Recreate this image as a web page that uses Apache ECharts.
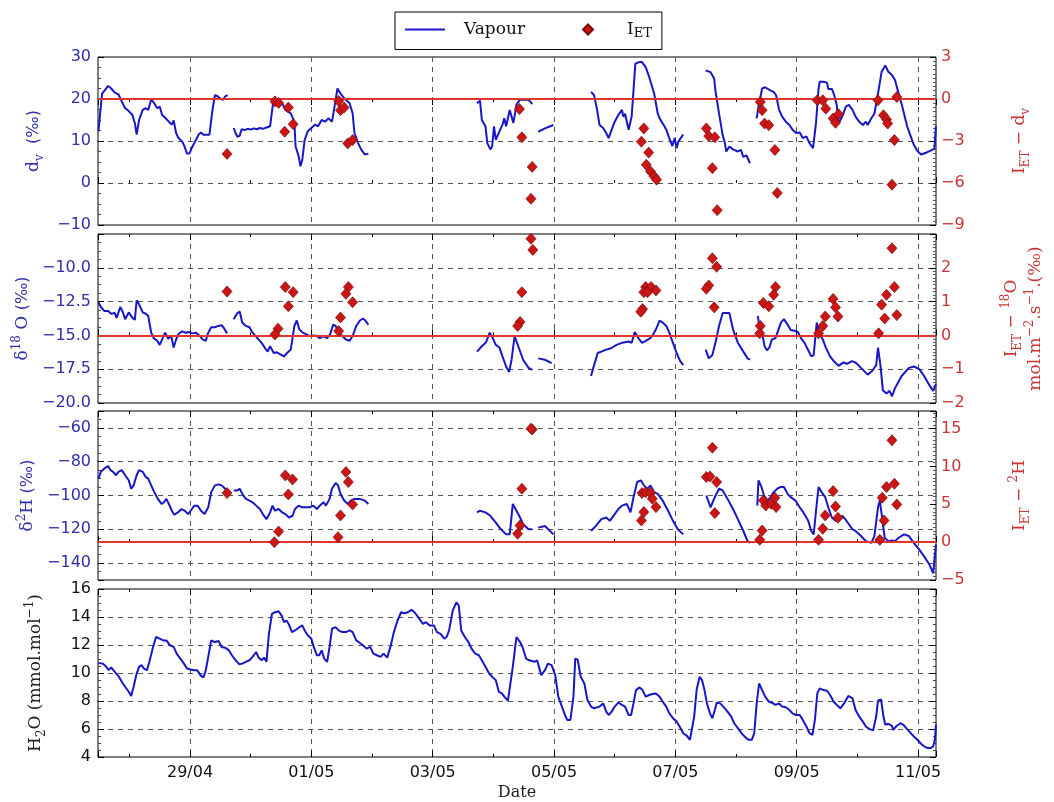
<!DOCTYPE html>
<html><head><meta charset="utf-8">
<script src="https://cdn.jsdelivr.net/npm/echarts@6/dist/echarts.min.js"></script>
<style>html,body{margin:0;padding:0;background:#fff}#c{width:1054px;height:802px}</style>
</head><body><div id="c"></div>
<script>
// x values are days since 27/04 00:00 (29/04 = 2, 01/05 = 4, ...)
const X_MIN = 0.483, X_MAX = 14.296;

// Panel 1: d_v of vapour (left axis) and I_ET - d_v (right axis)
const dvLine = [
[0.49,12.3],[0.55,21.3],[0.59,22.0],[0.65,23.1],[0.70,22.5],[0.76,21.5],[0.82,21.1],[0.875,19.4],[0.93,17.8],[0.97,17.4],[1.0,17.8],[1.05,16.2],[1.09,14.3],[1.12,11.5],[1.16,15.0],[1.22,17.4],[1.27,17.8],[1.31,17.4],[1.36,19.9],[1.41,19.0],[1.46,17.8],[1.50,18.2],[1.54,16.2],[1.60,15.4],[1.65,14.6],[1.70,13.9],[1.73,14.9],[1.77,11.9],[1.81,10.7],[1.87,9.9],[1.91,8.7],[1.95,7.0],[1.99,7.0],[2.04,8.7],[2.10,10.3],[2.14,11.5],[2.18,12.0],[2.22,11.5],[2.27,11.5],[2.32,11.5],[2.37,17.4],[2.41,20.9],[2.45,20.7],[2.49,20.2],[2.54,19.8],[2.58,20.6],[2.62,20.9],
[2.67,null],
[2.72,13.1],[2.75,11.9],[2.78,11.0],[2.82,11.3],[2.85,12.8],[2.90,12.6],[2.95,12.9],[3.00,12.7],[3.05,13.0],[3.10,12.8],[3.15,13.1],[3.20,12.9],[3.26,13.2],[3.32,13.5],[3.375,19.8],[3.45,19.6],[3.52,19.0],[3.57,17.4],[3.66,16.6],[3.72,14.6],[3.74,8.7],[3.79,6.4],[3.82,4.0],[3.85,5.5],[3.89,10.3],[3.94,12.3],[4.0,13.1],[4.06,13.9],[4.11,13.5],[4.17,15.0],[4.23,14.6],[4.28,15.4],[4.34,14.6],[4.40,19.8],[4.43,22.5],[4.48,21.3],[4.54,20.2],[4.63,19.0],[4.68,16.6],[4.71,11.9],[4.77,9.5],[4.82,8.0],[4.88,6.8],[4.94,7.0],
[5.0,null],
[6.73,19.0],[6.78,19.6],[6.81,15.0],[6.87,13.5],[6.90,9.5],[6.95,8.0],[6.98,8.7],[7.01,13.5],[7.04,10.3],[7.10,12.3],[7.15,13.9],[7.18,15.4],[7.21,13.5],[7.27,17.4],[7.30,15.8],[7.33,14.3],[7.38,18.6],[7.44,19.9],[7.50,19.8],[7.56,19.9],[7.61,19.4],[7.64,18.8],
[7.69,null],
[7.74,12.2],[7.85,13.0],[7.99,13.8],
[8.3,null],
[8.61,21.7],[8.66,20.9],[8.71,17.4],[8.75,13.8],[8.78,14.2],[8.81,13.1],[8.86,11.9],[8.90,10.7],[8.95,12.7],[9.0,14.6],[9.06,16.2],[9.09,15.8],[9.12,17.4],[9.14,15.8],[9.17,16.5],[9.23,12.7],[9.28,15.9],[9.34,28.4],[9.40,28.8],[9.45,28.8],[9.51,27.6],[9.57,25.2],[9.65,21.3],[9.71,16.5],[9.74,15.4],[9.79,14.2],[9.82,13.5],[9.85,12.7],[9.90,10.7],[9.95,8.8],[9.99,10.7],[10.02,8.3],[10.05,9.9],[10.07,9.5],[10.13,11.5],
[10.3,null],
[10.50,26.8],[10.58,26.4],[10.64,24.8],[10.66,22.0],[10.72,16.5],[10.78,11.4],[10.81,9.9],[10.84,7.5],[10.89,8.7],[10.95,8.0],[10.97,8.3],[11.03,7.5],[11.08,7.9],[11.12,6.2],[11.17,6.6],[11.23,4.7],
[11.29,null],
[11.34,15.4],[11.37,18.2],[11.43,22.5],[11.48,22.8],[11.57,22.0],[11.62,21.7],[11.66,20.9],[11.71,17.4],[11.76,15.8],[11.82,14.6],[11.88,13.8],[11.93,12.7],[11.99,11.9],[12.02,11.5],[12.05,12.0],[12.10,10.7],[12.16,11.1],[12.21,9.5],[12.27,8.3],[12.32,14.6],[12.36,22.4],[12.38,24.1],[12.44,24.1],[12.50,23.9],[12.52,22.4],[12.58,22.4],[12.61,21.3],[12.66,18.6],[12.69,14.2],[12.75,15.8],[12.81,18.2],[12.86,18.6],[12.92,17.4],[12.97,15.8],[13.03,14.6],[13.09,13.8],[13.14,14.6],[13.17,13.8],[13.23,15.4],[13.28,16.5],[13.34,21.3],[13.40,26.5],[13.46,28.0],[13.51,26.5],[13.57,25.7],[13.62,24.5],[13.68,21.3],[13.74,18.2],[13.82,13.5],[13.88,11.1],[13.93,9.1],[13.99,7.6],[14.05,6.8],[14.13,7.2],[14.19,7.6],[14.27,8.2],[14.295,13.5]
];
const dvIET = [
[2.61,-3.92],[3.40,-0.17],[3.46,-0.28],[3.62,-0.61],[3.56,-2.34],[3.70,-1.80],[4.45,-0.14],[4.48,-0.80],[4.54,-0.61],[4.60,-3.17],[4.68,-2.93],[7.43,-0.72],[7.47,-2.74],[7.64,-4.85],[7.62,-7.13],[9.48,-2.10],[9.44,-3.05],[9.56,-3.83],[9.52,-4.70],[9.59,-5.17],[9.65,-5.53],[9.69,-5.76],[10.51,-2.10],[10.55,-2.65],[10.65,-2.74],[10.61,-4.94],[10.69,-7.94],[11.40,-0.21],[11.43,-0.80],[11.47,-1.75],[11.54,-1.87],[11.64,-3.64],[11.68,-6.71],[12.34,-0.09],[12.43,-0.09],[12.48,-0.69],[12.60,-1.39],[12.64,-1.70],[12.69,-1.09],[13.34,-0.09],[13.43,-1.16],[13.48,-1.46],[13.50,-1.75],[13.61,-2.93],[13.57,-6.12],[13.65,0.14]
];

// Panel 2: delta18O of vapour and I_ET - 18O
const o18Line = [
[0.49,-12.55],[0.53,-12.9],[0.59,-13.2],[0.65,-13.2],[0.70,-13.4],[0.76,-13.35],[0.79,-13.7],[0.85,-12.9],[0.89,-13.25],[0.93,-13.8],[0.99,-13.3],[1.05,-13.7],[1.09,-13.85],[1.12,-12.4],[1.16,-12.7],[1.22,-13.3],[1.27,-13.4],[1.31,-13.55],[1.36,-14.8],[1.40,-15.2],[1.46,-15.4],[1.50,-15.7],[1.54,-15.3],[1.59,-14.8],[1.64,-15.25],[1.69,-15.05],[1.73,-15.9],[1.77,-15.3],[1.81,-14.9],[1.87,-14.7],[1.93,-14.8],[1.98,-14.75],[2.04,-14.85],[2.10,-14.8],[2.15,-15.0],[2.21,-15.3],[2.26,-15.4],[2.30,-14.8],[2.35,-14.4],[2.41,-14.4],[2.47,-14.3],[2.52,-14.25],[2.55,-14.4],[2.61,-14.85],
[2.67,null],
[2.72,-13.8],[2.78,-13.35],[2.82,-13.25],[2.86,-14.05],[2.92,-14.3],[2.98,-14.4],[3.03,-14.8],[3.11,-15.2],[3.18,-15.55],[3.23,-15.9],[3.28,-16.2],[3.32,-15.8],[3.38,-16.3],[3.43,-16.25],[3.49,-16.4],[3.55,-16.55],[3.60,-16.3],[3.66,-16.05],[3.72,-14.3],[3.76,-13.9],[3.80,-14.55],[3.86,-14.8],[3.91,-14.9],[3.97,-15.05],[4.03,-15.0],[4.09,-15.05],[4.14,-15.2],[4.20,-15.05],[4.26,-15.2],[4.31,-14.9],[4.36,-14.2],[4.40,-14.3],[4.45,-14.8],[4.51,-15.05],[4.57,-15.3],[4.63,-15.4],[4.68,-15.05],[4.74,-14.3],[4.80,-13.9],[4.85,-13.75],[4.89,-13.9],[4.94,-14.2],
[5.0,null],
[6.73,-16.2],[6.81,-15.8],[6.88,-15.5],[6.94,-14.8],[6.99,-15.2],[7.04,-15.7],[7.10,-15.9],[7.15,-16.55],[7.21,-17.3],[7.26,-17.7],[7.30,-16.8],[7.35,-15.05],[7.41,-15.8],[7.45,-16.3],[7.49,-16.8],[7.58,-17.4],[7.64,-17.55],
[7.69,null],
[7.74,-16.7],[7.85,-16.8],[7.96,-17.05],
[8.3,null],
[8.61,-18.0],[8.66,-17.2],[8.72,-16.3],[8.78,-16.2],[8.86,-16.05],[8.94,-15.95],[9.03,-15.7],[9.12,-15.55],[9.17,-15.5],[9.23,-15.45],[9.28,-15.55],[9.33,-14.75],[9.39,-15.2],[9.45,-15.55],[9.51,-15.4],[9.57,-15.25],[9.62,-15.05],[9.68,-14.55],[9.74,-13.9],[9.79,-14.05],[9.85,-14.3],[9.90,-14.8],[9.96,-15.55],[10.02,-16.3],[10.08,-16.9],[10.13,-17.2],
[10.3,null],
[10.50,-16.05],[10.55,-16.7],[10.61,-16.45],[10.66,-15.55],[10.72,-14.3],[10.78,-13.35],[10.84,-13.35],[10.89,-13.35],[10.95,-14.55],[11.03,-15.55],[11.12,-16.2],[11.19,-16.7],[11.23,-16.8],
[11.29,null],
[11.36,-13.55],[11.39,-14.55],[11.43,-14.8],[11.47,-15.8],[11.51,-16.1],[11.55,-15.9],[11.59,-15.3],[11.65,-15.2],[11.74,-14.05],[11.79,-13.8],[11.85,-14.2],[11.90,-14.6],[11.96,-14.65],[12.02,-14.75],[12.07,-15.2],[12.13,-15.55],[12.19,-16.1],[12.24,-16.55],[12.28,-16.45],[12.33,-14.05],[12.37,-14.8],[12.43,-15.3],[12.48,-15.9],[12.55,-16.55],[12.61,-16.9],[12.69,-17.25],[12.77,-17.0],[12.83,-17.1],[12.91,-16.9],[12.97,-17.0],[13.06,-17.4],[13.17,-17.9],[13.25,-17.6],[13.31,-17.2],[13.34,-15.9],[13.38,-17.2],[13.42,-19.05],[13.48,-19.3],[13.53,-19.1],[13.57,-19.5],[13.62,-18.9],[13.73,-18.0],[13.85,-17.4],[13.93,-17.3],[14.02,-17.5],[14.10,-18.0],[14.19,-18.7],[14.25,-19.1],[14.295,-18.6]
];
const o18IET = [
[2.61,1.3],[3.57,1.43],[3.70,1.28],[3.62,0.86],[3.45,0.2],[3.40,0.03],[4.61,1.43],[4.57,1.23],[4.68,0.98],[4.48,0.53],[4.45,0.13],[7.62,2.86],[7.65,2.53],[7.47,1.28],[7.44,0.4],[7.40,0.28],[9.51,1.43],[9.57,1.38],[9.60,1.43],[9.48,1.28],[9.54,1.28],[9.68,1.33],[9.46,0.78],[9.43,0.7],[10.61,2.28],[10.68,2.03],[10.55,1.48],[10.51,1.38],[10.64,0.83],[11.45,0.96],[11.54,0.86],[11.65,1.43],[11.62,1.2],[11.40,0.28],[11.39,0.06],[12.60,1.08],[12.64,0.83],[12.68,0.56],[12.47,0.56],[12.43,0.28],[12.36,0.06],[13.57,2.58],[13.61,1.43],[13.48,1.2],[13.40,0.91],[13.45,0.5],[13.65,0.6],[13.35,0.06]
];

// Panel 3: delta2H of vapour and I_ET - 2H
const h2Line = [
[0.49,-90],[0.53,-86],[0.59,-84],[0.65,-82.6],[0.69,-85],[0.73,-86],[0.78,-88],[0.82,-86],[0.875,-85],[0.93,-88],[0.99,-91],[1.03,-96],[1.07,-94],[1.12,-88],[1.16,-85],[1.22,-86],[1.27,-89],[1.31,-90],[1.36,-94],[1.41,-98],[1.47,-102],[1.53,-105],[1.57,-104],[1.61,-102],[1.65,-105],[1.70,-109],[1.74,-111.4],[1.80,-110],[1.86,-108],[1.91,-109],[1.97,-111],[2.01,-109],[2.07,-106],[2.125,-106],[2.18,-109],[2.24,-111],[2.30,-107],[2.35,-98],[2.41,-94],[2.47,-93.4],[2.52,-94],[2.58,-96],[2.61,-98],
[2.67,null],
[2.72,-97],[2.78,-97],[2.82,-96],[2.86,-99],[2.92,-102],[2.98,-103],[3.03,-104],[3.09,-106],[3.15,-108],[3.20,-111],[3.26,-114],[3.32,-110],[3.36,-106],[3.40,-109],[3.46,-108],[3.52,-110],[3.57,-111],[3.63,-113],[3.69,-112],[3.73,-108],[3.79,-106],[3.85,-107],[3.91,-107],[3.97,-107],[4.03,-106],[4.09,-108],[4.14,-106],[4.20,-104],[4.24,-106],[4.30,-102],[4.34,-96],[4.40,-92.6],[4.44,-94],[4.48,-99],[4.54,-103],[4.60,-105],[4.65,-103],[4.71,-102],[4.80,-102],[4.88,-103],[4.94,-105],
[5.0,null],
[6.73,-110],[6.78,-109],[6.87,-110],[6.95,-112],[7.04,-116],[7.125,-120],[7.21,-123],[7.27,-123],[7.32,-105],[7.38,-109],[7.44,-113],[7.49,-117],[7.58,-120],[7.64,-120],
[7.69,null],
[7.74,-119],[7.85,-118],[7.99,-123],
[8.3,null],
[8.61,-121],[8.69,-118],[8.78,-114],[8.86,-113],[8.92,-115],[9.0,-111],[9.06,-108],[9.12,-106],[9.15,-107],[9.2,-105],[9.26,-110],[9.31,-101],[9.37,-92],[9.43,-91],[9.48,-94],[9.54,-96],[9.59,-94],[9.65,-98],[9.71,-99],[9.79,-103],[9.88,-109],[9.96,-115],[10.04,-120],[10.13,-123],
[10.3,null],
[10.51,-100],[10.58,-107],[10.65,-101],[10.72,-96],[10.78,-97],[10.86,-102],[10.95,-108],[11.03,-114],[11.12,-121],[11.19,-127],[11.23,-128],
[11.29,null],
[11.35,-106],[11.37,-91],[11.42,-95],[11.46,-100],[11.52,-103],[11.57,-101],[11.62,-98],[11.68,-96],[11.73,-95],[11.79,-95],[11.85,-99],[11.90,-101],[11.98,-103],[12.05,-107],[12.11,-110],[12.19,-115],[12.24,-121],[12.28,-123],[12.33,-105],[12.36,-95],[12.41,-98],[12.47,-101],[12.52,-107],[12.58,-113],[12.64,-115],[12.69,-115],[12.75,-112],[12.80,-114],[12.86,-117],[12.92,-120],[12.97,-121],[13.06,-124],[13.14,-127],[13.23,-128],[13.28,-124],[13.34,-107],[13.37,-103],[13.40,-111],[13.45,-125],[13.51,-127],[13.57,-126.6],[13.62,-127],[13.68,-125],[13.77,-123],[13.85,-124],[13.93,-128],[14.02,-132],[14.10,-136],[14.19,-141],[14.25,-146],[14.28,-146],[14.295,-129]
];
const h2IET = [
[2.61,6.48],[3.57,8.82],[3.69,8.29],[3.62,6.31],[3.46,1.41],[3.39,0.0],[4.57,9.26],[4.61,7.94],[4.48,3.53],[4.44,0.66],[4.68,4.98],[7.64,14.9],[7.62,15.0],[7.47,7.06],[7.44,2.2],[7.40,1.1],[9.45,6.48],[9.51,6.6],[9.59,6.48],[9.62,5.73],[9.68,4.63],[9.48,3.97],[9.44,2.87],[10.61,12.48],[10.51,8.6],[10.57,8.69],[10.68,7.94],[10.65,3.84],[11.45,5.51],[11.49,4.85],[11.58,5.07],[11.64,5.87],[11.66,4.63],[11.43,1.54],[11.39,0.31],[12.60,6.75],[12.64,4.72],[12.68,3.22],[12.47,3.53],[12.43,1.76],[12.36,0.31],[13.57,13.45],[13.61,7.72],[13.48,7.28],[13.41,5.87],[13.44,2.87],[13.65,4.98],[13.37,0.31]
];

// Panel 4: H2O mixing ratio (mmol/mol)
const h2oLine = [
[0.49,10.72],[0.56,10.67],[0.62,10.44],[0.66,10.2],[0.70,10.4],[0.76,10.08],[0.82,9.78],[0.875,9.37],[0.93,9.02],[0.99,8.66],[1.03,8.36],[1.07,9.02],[1.12,9.96],[1.16,10.44],[1.2,10.56],[1.24,10.32],[1.29,10.2],[1.33,10.8],[1.39,11.86],[1.44,12.57],[1.5,12.45],[1.56,12.33],[1.61,12.33],[1.67,11.98],[1.73,11.86],[1.78,11.38],[1.84,11.03],[1.9,10.67],[1.95,10.32],[2.01,10.25],[2.07,10.2],[2.12,10.2],[2.17,9.85],[2.22,9.68],[2.26,10.2],[2.3,11.15],[2.35,12.33],[2.41,12.21],[2.47,12.28],[2.52,11.86],[2.58,11.81],[2.64,11.62],[2.69,11.27],[2.75,10.91],[2.81,10.63],[2.86,10.67],[2.92,10.79],[2.98,10.91],[3.03,11.15],[3.09,11.5],[3.13,11.1],[3.18,10.91],[3.22,11.1],[3.26,10.8],[3.3,12.8],[3.35,14.22],[3.4,14.34],[3.46,14.41],[3.51,14.1],[3.55,13.63],[3.59,13.75],[3.63,13.47],[3.68,12.92],[3.73,13.04],[3.79,13.23],[3.85,13.4],[3.89,13.04],[3.94,12.69],[4.0,12.45],[4.04,11.86],[4.09,11.27],[4.13,11.27],[4.17,11.62],[4.21,11.03],[4.26,10.8],[4.3,11.86],[4.34,13.16],[4.4,13.28],[4.45,13.04],[4.51,12.92],[4.57,12.92],[4.63,13.04],[4.68,12.92],[4.74,12.33],[4.8,12.14],[4.85,11.98],[4.91,11.74],[4.97,11.86],[5.02,11.38],[5.08,11.27],[5.14,11.15],[5.19,11.38],[5.25,11.1],[5.31,11.98],[5.36,12.92],[5.42,13.75],[5.48,14.34],[5.53,14.27],[5.59,14.34],[5.65,14.51],[5.7,14.34],[5.76,13.99],[5.84,13.51],[5.89,13.63],[5.95,13.4],[6.02,13.4],[6.07,12.92],[6.13,12.8],[6.19,12.45],[6.23,12.57],[6.27,13.04],[6.33,14.46],[6.39,15.05],[6.43,14.82],[6.47,13.04],[6.53,12.57],[6.59,12.21],[6.64,11.74],[6.7,11.38],[6.76,11.27],[6.81,10.91],[6.87,10.44],[6.93,9.96],[6.98,9.73],[7.04,9.49],[7.09,8.66],[7.14,8.54],[7.18,8.31],[7.24,8.02],[7.27,8.05],[7.32,10.44],[7.38,12.57],[7.44,12.21],[7.48,11.86],[7.54,11.03],[7.59,10.91],[7.68,10.8],[7.72,10.91],[7.79,9.85],[7.85,10.2],[7.9,10.67],[7.96,10.56],[8.02,9.85],[8.07,8.31],[8.13,7.6],[8.19,6.89],[8.22,6.65],[8.27,6.65],[8.32,8.31],[8.35,11.03],[8.39,10.96],[8.44,9.73],[8.5,9.25],[8.55,8.07],[8.61,7.6],[8.66,7.48],[8.75,7.6],[8.81,7.83],[8.86,7.24],[8.9,7.0],[8.95,7.24],[9.0,7.6],[9.06,7.88],[9.12,7.72],[9.17,7.6],[9.23,7.0],[9.27,7.0],[9.31,7.83],[9.35,8.78],[9.41,8.97],[9.46,8.78],[9.51,8.31],[9.57,8.43],[9.62,8.5],[9.68,8.54],[9.71,8.6],[9.74,8.31],[9.79,7.95],[9.85,7.6],[9.9,7.12],[9.96,6.77],[10.02,6.53],[10.07,6.18],[10.13,5.7],[10.19,5.51],[10.24,5.23],[10.27,5.35],[10.31,6.89],[10.35,8.78],[10.4,9.73],[10.44,9.49],[10.48,8.78],[10.52,7.83],[10.57,7.12],[10.61,6.77],[10.65,7.36],[10.68,7.88],[10.74,7.83],[10.79,7.6],[10.86,7.24],[10.92,6.89],[10.97,6.41],[11.03,6.06],[11.09,5.7],[11.14,5.47],[11.2,5.23],[11.26,5.23],[11.3,5.7],[11.34,7.83],[11.38,9.25],[11.43,8.78],[11.48,8.31],[11.54,7.95],[11.59,7.88],[11.65,7.72],[11.71,7.83],[11.76,7.6],[11.82,7.55],[11.88,7.36],[11.93,7.12],[11.99,7.0],[12.05,7.0],[12.1,6.65],[12.16,6.18],[12.21,5.7],[12.26,5.59],[12.3,6.65],[12.34,8.54],[12.38,8.9],[12.44,8.78],[12.5,8.73],[12.55,8.43],[12.61,7.95],[12.66,7.72],[12.72,7.48],[12.78,7.83],[12.85,8.36],[12.92,8.19],[12.97,7.36],[13.03,6.89],[13.09,6.53],[13.14,6.18],[13.2,5.99],[13.26,5.9],[13.31,6.89],[13.34,8.02],[13.39,8.12],[13.43,6.89],[13.46,6.3],[13.51,6.37],[13.57,6.23],[13.59,5.94],[13.65,6.23],[13.71,6.41],[13.76,6.3],[13.82,5.99],[13.88,5.7],[13.93,5.47],[13.99,5.23],[14.05,4.95],[14.1,4.76],[14.16,4.64],[14.21,4.64],[14.25,4.76],[14.28,5.3],[14.295,6.3]
];

const BLUE = '#1717c4', BLUE_TXT = '#2f2fa8', RED = '#e0342e', RED_TXT = '#c93434', DIAM = '#cc1515';
const SERIF = 'DejaVu Serif', SANS = 'DejaVu Sans';
const GRIDS = [{top:57,height:168},{top:234,height:169},{top:411,height:169},{top:589,height:168}];

function minus(s){ return String(s).replace('-', '\u2212'); }
function fmtInt(v){ return minus(Math.round(v)); }
function fmtDate(d){
  const r = Math.round(d);
  if (Math.abs(d - r) > 1e-6) return '';
  const dt = new Date(Date.UTC(2015, 3, 27 + r));
  return String(dt.getUTCDate()).padStart(2,'0') + '/' + String(dt.getUTCMonth()+1).padStart(2,'0');
}
const richName = (color) => ({
  n: {fontFamily: SERIF, fontSize: 17, color: color, lineHeight: 24},
  t: {fontFamily: SANS, fontSize: 16, color: color, lineHeight: 24},
  s: {fontFamily: SERIF, fontSize: 12, color: color, verticalAlign: 'bottom', lineHeight: 16},
  p: {fontFamily: SERIF, fontSize: 12, color: color, verticalAlign: 'top', lineHeight: 16}
});

const xAxes = [];
for (let i = 0; i < 4; i++) {
  xAxes.push({
    type:'value', gridIndex:i, position:'bottom', min:X_MIN, max:X_MAX, minInterval:2, maxInterval:2,
    axisLine:{show:false},
    axisTick:{show:true, inside:true, length:6, lineStyle:{color:'#000'}},
    minorTick:{show:true, splitNumber:2, length:3, lineStyle:{color:'#000'}},
    axisLabel:{show:i===3, formatter:fmtDate, showMinLabel:false, showMaxLabel:false, fontSize:16, fontFamily:SANS, color:'#111', margin:8},
    splitLine:{show:true, showMinLine:false, showMaxLine:false, lineStyle:{color:'#555', type:[5,5], width:1}},
    name: i===3 ? 'Date' : '', nameLocation:'middle', nameGap:28,
    nameTextStyle:{fontFamily:SERIF, fontSize:16, color:'#222'}
  });
}
for (let i = 0; i < 4; i++) {
  xAxes.push({
    type:'value', gridIndex:i, position:'top', min:X_MIN, max:X_MAX, minInterval:2, maxInterval:2,
    axisLine:{show:false}, axisLabel:{show:false}, splitLine:{show:false},
    axisTick:{show:true, inside:true, length:6, lineStyle:{color:'#000'}},
    minorTick:{show:true, splitNumber:2, length:3, lineStyle:{color:'#000'}}
  });
}

function leftAxis(g, min, max, opts) {
  return Object.assign({
    type:'value', gridIndex:g, position:'left', min:min, max:max,
    axisLine:{show:false},
    axisTick:{show:true, inside:true, length:6, lineStyle:{color:'#000'}},
    minorTick:{show:true, splitNumber:4, length:3, lineStyle:{color:'#444'}},
    splitLine:{show:true, showMinLine:false, showMaxLine:false, lineStyle:{color:'#555', type:[5,5], width:1}},
    nameLocation:'middle', nameRotate:90, nameGap:52
  }, opts);
}
function rightAxis(g, min, max, opts) {
  return Object.assign({
    type:'value', gridIndex:g, position:'right', min:min, max:max,
    axisLine:{show:false},
    axisTick:{show:true, inside:true, length:6, lineStyle:{color:'#000'}},
    minorTick:{show:true, splitNumber:10, length:3, lineStyle:{color:'#555'}},
    splitLine:{show:false},
    nameLocation:'middle', nameRotate:90, nameGap:72
  }, opts);
}
const lblBlue = {fontSize:16, fontFamily:SANS, color:BLUE_TXT, margin:7};
const lblRed = {fontSize:16, fontFamily:SANS, color:RED_TXT, margin:5};

const yAxes = [
  leftAxis(0, -10, 30, {interval:10, axisLabel:Object.assign({formatter:fmtInt}, lblBlue),
    name:'{n|d}{s|v}{t|  (‰)}', nameTextStyle:{rich:richName(BLUE_TXT)}}),
  rightAxis(0, -9, 3, {interval:3, axisLabel:Object.assign({formatter:fmtInt}, lblRed),
    name:'{n|I}{s|ET}{n| − d}{s|v}', nameTextStyle:{rich:richName(RED_TXT)}}),
  leftAxis(1, -20, -7.5, {interval:2.5, axisLabel:Object.assign({formatter:v=>minus(v.toFixed(1)), showMaxLabel:false}, lblBlue),
    name:'{n|δ}{p|18}{n| O }{t|(‰)}', nameTextStyle:{rich:richName(BLUE_TXT)}}),
  rightAxis(1, -2, 3, {interval:1, axisLabel:Object.assign({formatter:fmtInt, showMaxLabel:false}, lblRed),
    name:'{n|I}{s|ET}{n| − }{p|18}{n|O}\n{n|mol.m}{p|−2}{n|.s}{p|−1}{n|.(‰)}', nameGap:64,
    nameTextStyle:{rich:richName(RED_TXT), lineHeight:30}}),
  leftAxis(2, -150, -50, {minInterval:20, maxInterval:20, axisLabel:Object.assign({formatter:fmtInt, showMinLabel:false, showMaxLabel:false}, lblBlue),
    name:'{n|δ}{p|2}{n|H }{t|(‰)}', nameTextStyle:{rich:richName(BLUE_TXT)}}),
  rightAxis(2, -5, 17.33, {minInterval:5, maxInterval:5, axisLabel:Object.assign({formatter:fmtInt, showMaxLabel:false}, lblRed),
    name:'{n|I}{s|ET}{n| − }{p|2}{n|H}', nameTextStyle:{rich:richName(RED_TXT)}}),
  leftAxis(3, 4, 16, {interval:2, axisLabel:Object.assign({formatter:fmtInt}, lblBlue, {color:'#111'}),
    name:'{n|H}{s|2}{n|O (mmol.mol}{p|−1}{n|)}', nameGap:50, nameTextStyle:{rich:richName('#222')}}),
  rightAxis(3, 4, 16, {interval:2, axisLabel:{show:false}, minorTick:{show:true, splitNumber:4, length:3, lineStyle:{color:'#444'}}})
];

function lineSeries(data, xi, yi) {
  return {name:'Vapour', type:'line', xAxisIndex:xi, yAxisIndex:yi, data:data, symbol:'none', showSymbol:false,
    connectNulls:false, lineStyle:{color:BLUE, width:2}, itemStyle:{color:BLUE}, z:3, animation:false};
}
function ietSeries(data, xi, yi) {
  return {name:'I_ET', type:'scatter', xAxisIndex:xi, yAxisIndex:yi, data:data, symbol:'diamond', symbolSize:[10,11],
    itemStyle:{color:DIAM, borderColor:'#7a0a0a', borderWidth:0.7, opacity:1}, z:5, animation:false,
    markLine:{silent:true, symbol:'none', label:{show:false}, animation:false,
      lineStyle:{color:RED, width:2, type:'solid', opacity:1}, data:[{yAxis:0}], z:4}};
}

const chart = echarts.init(document.getElementById('c'), null, {renderer:'canvas'});
chart.setOption({
  backgroundColor:'#fff',
  animation:false,
  grid: GRIDS.map(g => ({left:98, right:118, top:g.top, height:g.height, show:true, borderColor:'#000', borderWidth:1,
    backgroundColor:'transparent', containLabel:false, outerBoundsMode:'none'})),
  legend: {
    data:[
      {name:'Vapour', icon:'path://M0,0 L0,0 M0,4 L40,4 L40,6 L0,6 Z M40,10 L40,10'},
      {name:'I_ET', icon:'path://M0,0 L0,0 M20,0 L25,5 L20,10 L15,5 Z M40,10 L40,10'}
    ],
    left:395, top:12, orient:'horizontal',
    padding:[9,10,9,10], itemGap:42, itemWidth:40, itemHeight:10,
    borderColor:'#000', borderWidth:1, borderRadius:0, backgroundColor:'#fff',
    formatter: n => n === 'I_ET' ? '{n|I}{s|ET}' : '{n|Vapour}',
    textStyle:{color:'#111', rich:{
      n:{fontFamily:SERIF, fontSize:17, color:'#111', lineHeight:22, padding:[0,0,0,14]},
      s:{fontFamily:SERIF, fontSize:13, color:'#111', verticalAlign:'bottom', lineHeight:14}
    }}
  },
  xAxis: xAxes,
  yAxis: yAxes,
  series: [
    lineSeries(dvLine, 0, 0), ietSeries(dvIET, 0, 1),
    lineSeries(o18Line, 1, 2), ietSeries(o18IET, 1, 3),
    lineSeries(h2Line, 2, 4), ietSeries(h2IET, 2, 5),
    lineSeries(h2oLine, 3, 6)
  ]
});
</script>
</body></html>
